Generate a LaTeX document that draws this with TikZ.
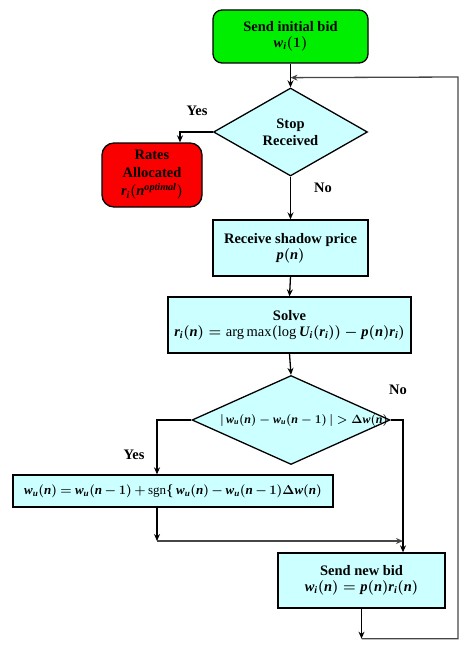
\documentclass[tikz,border=0pt]{standalone}
\usepackage{fix-cm}
\usepackage{fontspec}
\setmainfont{Liberation Serif}
\usetikzlibrary{shapes.geometric,arrows.meta,calc}
\definecolor{boxcyan}{RGB}{204,255,255}
\definecolor{bidgreen}{RGB}{0,238,0}
\definecolor{allocred}{RGB}{250,0,0}
\definecolor{loopgray}{RGB}{70,70,70}
\newcommand{\iv}[1]{\mathit{#1}}
\newcommand{\rmop}[1]{\mbox{\mdseries #1}}
\newcommand{\wu}{\iv{w}_{\iv{u}}}
\begin{document}
\begin{tikzpicture}[x=1pt,y=-1pt,
  font=\fontsize{14.5}{17}\selectfont\bfseries\boldmath,
  procbox/.style={draw, line width=1.3pt, fill=boxcyan, rectangle, inner sep=0pt, align=center},
  decide/.style={draw, diamond, fill=boxcyan, line width=1.3pt, inner sep=0pt},
  flow/.style={line width=1.3pt, -{Stealth[length=7pt,width=6pt]}},
  backflow/.style={line width=1.3pt, draw=loopgray, -{Stealth[length=7pt,width=6pt,fill=black]}},
  lbl/.style={inner sep=0pt}]
\useasboundingbox (0,0) rectangle (468,650);

\node[procbox, fill=bidgreen, rounded corners=9pt, minimum width=155pt, minimum height=53pt] (start) at (290.5,36.5) {Send initial bid\\[-1pt]$\iv{w}_{\iv{i}}(1)$};

\node[decide, minimum width=154pt, minimum height=88pt] (d1) at (290.5,132) {};
\node[align=center, inner sep=0pt] (d1t) at (d1.center) {Stop\\Received};

\node[procbox, fill=allocred, rounded corners=12pt, minimum width=100pt, minimum height=64pt] (alloc) at (152,175) {Rates\\[1pt]Allocated\\[1pt]$\iv{r}_{\iv{i}}(\iv{n}^{\iv{optimal}})$};

\node[procbox, minimum width=155pt, minimum height=56pt] (recv) at (290.5,248) {Receive shadow price\\[-1pt]$\iv{p}(\iv{n})$};

\node[procbox, minimum width=243pt, minimum height=56pt] (solve) at (289.5,325) {Solve\\[-1pt]$\iv{r}_{\iv{i}}(\iv{n}) = \rmop{arg\,max}(\rmop{log}\,\iv{U}_{\iv{i}}(\iv{r}_{\iv{i}})) - \iv{p}(\iv{n})\iv{r}_{\iv{i}})$};

\node[decide, minimum width=198pt, minimum height=89pt] (d2) at (291,420) {};
\node[inner sep=0pt] (d2t) at ([xshift=13pt]d2.center) {\fontsize{12}{14}\selectfont$|\,\wu(\iv{n}) - \wu(\iv{n}-1)\,| > \Delta\iv{w}(\iv{n})$};

\node[procbox, minimum width=320pt, minimum height=32pt] (upd) at (173,491) {\fontsize{13}{15}\selectfont\medmuskip=3mu plus 1mu\thickmuskip=4mu plus 2mu$\wu(\iv{n}) = \wu(\iv{n}-1) + \rmop{sgn}\{\,\wu(\iv{n}) - \wu(\iv{n}-1)\Delta\iv{w}(\iv{n})$};

\node[procbox, minimum width=167pt, minimum height=55pt] (send) at (361.5,580.5) {Send new bid\\[-1pt]$\iv{w}_{\iv{i}}(\iv{n}) = \iv{p}(\iv{n})\iv{r}_{\iv{i}}(\iv{n})$};

% labels
\node[lbl] (yes1) at (197,111) {Yes};
\node[lbl] (no1) at (323,188) {No};
\node[lbl] (yes2) at (134,455) {Yes};
\node[lbl] (no2) at (398,390) {No};

% helper coordinates
\coordinate (j1) at ($(start.south)+(0,14)$);
\coordinate (alloctop) at ([xshift=28pt]alloc.north);
\coordinate (updtop) at ([xshift=-16pt]upd.north);
\coordinate (sendtop) at ([xshift=41.5pt]send.north);
\coordinate (m1) at (updtop |- {(0,541)});
\coordinate (b1) at ($(send.south)+(0,30)$);
\coordinate (rr) at (458,77);

% connectors
\draw[flow] (start.south) -- (d1.north);
\draw[flow] (d1.west) -| (alloctop);
\draw[flow] (d1.south) -- (recv.north);
\draw[flow] (recv.south) -- (solve.north);
\draw[flow] (solve.south) -- (d2.north);
\draw[flow] (d2.west) -| (updtop);
\draw[flow] (d2.east) -| (sendtop);
\draw[flow] (upd.south -| updtop) -- (m1);
\draw[backflow] (m1) -- (m1 -| sendtop);
\draw[flow] (send.south) -- (b1);
\draw[backflow] (b1) -| (rr) -- (j1);
\end{tikzpicture}
\end{document}
